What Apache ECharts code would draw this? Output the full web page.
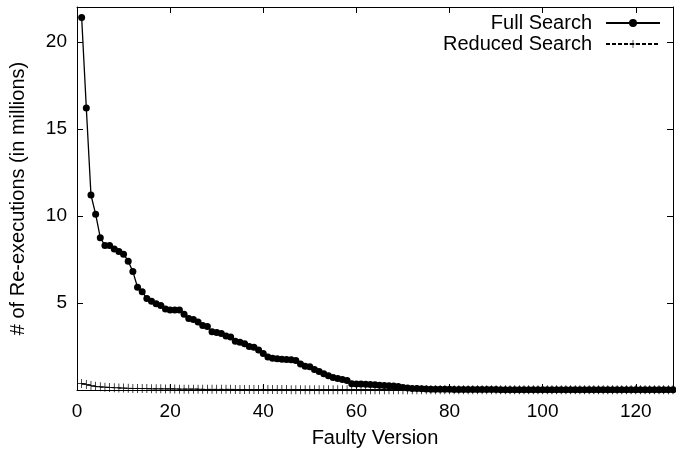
<!DOCTYPE html>
<html>
<head>
<meta charset="utf-8">
<script src="https://cdn.jsdelivr.net/npm/echarts@6/dist/echarts.min.js"></script>
<style>
  html, body { margin: 0; padding: 0; background: #fff; }
  #chart { width: 676px; height: 455px; }
</style>
</head>
<body>
<div id="chart"></div>
<script>
// faulty versions 1..128, values in millions of re-executions
const fullSearch = [
  21.4, 16.2, 11.2, 10.1, 8.75, 8.3, 8.3, 8.1, 7.95, 7.8,
  7.4, 6.8, 5.9, 5.65, 5.25, 5.1, 4.95, 4.85, 4.65, 4.6,
  4.6, 4.6, 4.35, 4.1, 4.05, 3.9, 3.7, 3.65, 3.35, 3.3,
  3.25, 3.1, 3.05, 2.8, 2.75, 2.65, 2.5, 2.45, 2.3, 2.1,
  1.9, 1.82, 1.8, 1.77, 1.75, 1.74, 1.7, 1.5, 1.37, 1.33,
  1.18, 1.06, 0.93, 0.82, 0.72, 0.66, 0.6, 0.55, 0.36, 0.35,
  0.34, 0.33, 0.32, 0.3, 0.28, 0.26, 0.25, 0.23, 0.2, 0.15,
  0.11, 0.09, 0.08, 0.07, 0.06, 0.05, 0.05, 0.04, 0.04, 0.04,
  0.03, 0.03, 0.03, 0.03, 0.03, 0.03, 0.03, 0.03, 0.03, 0.03,
  0.02, 0.02, 0.02, 0.02, 0.02, 0.02, 0.02, 0.02, 0.02, 0.02,
  0.02, 0.02, 0.02, 0.02, 0.02, 0.02, 0.02, 0.02, 0.02, 0.02,
  0.01, 0.01, 0.01, 0.01, 0.01, 0.01, 0.01, 0.01, 0.01, 0.01,
  0.01, 0.01, 0.01, 0.01, 0.01, 0.01, 0.01, 0.01
];
const reducedSearch = [
  0.38, 0.32, 0.26, 0.21, 0.18, 0.16, 0.14, 0.13, 0.12, 0.11,
  0.1, 0.09, 0.09, 0.08, 0.08, 0.07, 0.07, 0.07, 0.06, 0.06,
  0.06, 0.05, 0.05, 0.05, 0.05, 0.05, 0.04, 0.04, 0.04, 0.04,
  0.04, 0.04, 0.04, 0.03, 0.03, 0.03, 0.03, 0.03, 0.03, 0.03,
  0.03, 0.03, 0.03, 0.03, 0.03, 0.02, 0.02, 0.02, 0.02, 0.02,
  0.02, 0.02, 0.02, 0.02, 0.02, 0.02, 0.02, 0.02, 0.02, 0.02,
  0.02, 0.02, 0.02, 0.02, 0.02, 0.02, 0.02, 0.02, 0.02, 0.02,
  0.01, 0.01, 0.01, 0.01, 0.01, 0.01, 0.01, 0.01, 0.01, 0.01,
  0.01, 0.01, 0.01, 0.01, 0.01, 0.01, 0.01, 0.01, 0.01, 0.01,
  0.01, 0.01, 0.01, 0.01, 0.01, 0.01, 0.01, 0.01, 0.01, 0.01,
  0.01, 0.01, 0.01, 0.01, 0.01, 0.01, 0.01, 0.01, 0.01, 0.01,
  0.01, 0.01, 0.01, 0.01, 0.01, 0.01, 0.01, 0.01, 0.01, 0.01,
  0.01, 0.01, 0.01, 0.01, 0.01, 0.01, 0.01, 0.01
];
const xTicks = [0, 20, 40, 60, 80, 100, 120];
const yTicks = [5, 10, 15, 20];

const FONT = '"Liberation Sans", Arial, Helvetica, sans-serif';
const plusPath = 'path://M-0.08,-1H0.08V-0.08H1V0.08H0.08V1H-0.08V0.08H-1V-0.08H-0.08Z';

function toPairs(arr) {
  return arr.map(function (v, i) { return [i + 1, v]; });
}

const chart = echarts.init(document.getElementById('chart'), null, { renderer: 'canvas' });

const axisLine = { show: true, onZero: false, lineStyle: { color: '#000', width: 1 } };
const tickIn = { show: true, inside: true, length: 6, lineStyle: { color: '#000' } };

chart.setOption({
  animation: false,
  backgroundColor: '#fff',
  grid: { left: 77, right: 1, top: 7, bottom: 65 },
  legend: {
    orient: 'vertical',
    right: 10,
    top: 8,
    align: 'right',
    itemWidth: 54,
    itemHeight: 10,
    itemGap: 1,
    textStyle: { fontFamily: FONT, fontSize: 20, color: '#000', padding: [0, 9, 0, 0] },
    data: ['Full Search', 'Reduced Search']
  },
  xAxis: [{
    type: 'value',
    min: 0,
    max: 128,
    interval: 20,
    position: 'bottom',
    name: 'Faulty Version',
    nameLocation: 'middle',
    nameGap: 38,
    nameTextStyle: { fontFamily: FONT, fontSize: 20, color: '#000' },
    axisLine: axisLine,
    axisTick: tickIn,
    splitLine: { show: false },
    axisLabel: {
      fontFamily: FONT, fontSize: 19, color: '#000', margin: 12,
      formatter: function (v) { return xTicks.indexOf(v) >= 0 ? String(v) : ''; }
    }
  }, {
    type: 'value',
    min: 0,
    max: 128,
    interval: 20,
    position: 'top',
    axisLine: axisLine,
    axisTick: tickIn,
    splitLine: { show: false },
    axisLabel: { show: false }
  }],
  yAxis: [{
    type: 'value',
    min: 0,
    max: 22,
    interval: 5,
    position: 'left',
    name: '# of Re-executions (in millions)',
    nameLocation: 'middle',
    nameGap: 49,
    nameTextStyle: { fontFamily: FONT, fontSize: 20, color: '#000' },
    axisLine: axisLine,
    axisTick: tickIn,
    splitLine: { show: false },
    axisLabel: {
      fontFamily: FONT, fontSize: 19, color: '#000', margin: 10,
      formatter: function (v) { return yTicks.indexOf(v) >= 0 ? String(v) : ''; }
    }
  }, {
    type: 'value',
    min: 0,
    max: 22,
    interval: 5,
    position: 'right',
    axisLine: axisLine,
    axisTick: tickIn,
    splitLine: { show: false },
    axisLabel: { show: false }
  }],
  series: [{
    name: 'Full Search',
    type: 'line',
    data: toPairs(fullSearch),
    symbol: 'circle',
    symbolSize: 7,
    showAllSymbol: true,
    itemStyle: { color: '#000' },
    lineStyle: { color: '#000', width: 1.3 }
  }, {
    name: 'Reduced Search',
    type: 'line',
    data: toPairs(reducedSearch),
    symbol: plusPath,
    symbolSize: 9,
    showAllSymbol: true,
    itemStyle: { color: '#000' },
    lineStyle: { color: '#000', width: 1, type: [4, 2] }
  }]
});
</script>
</body>
</html>
